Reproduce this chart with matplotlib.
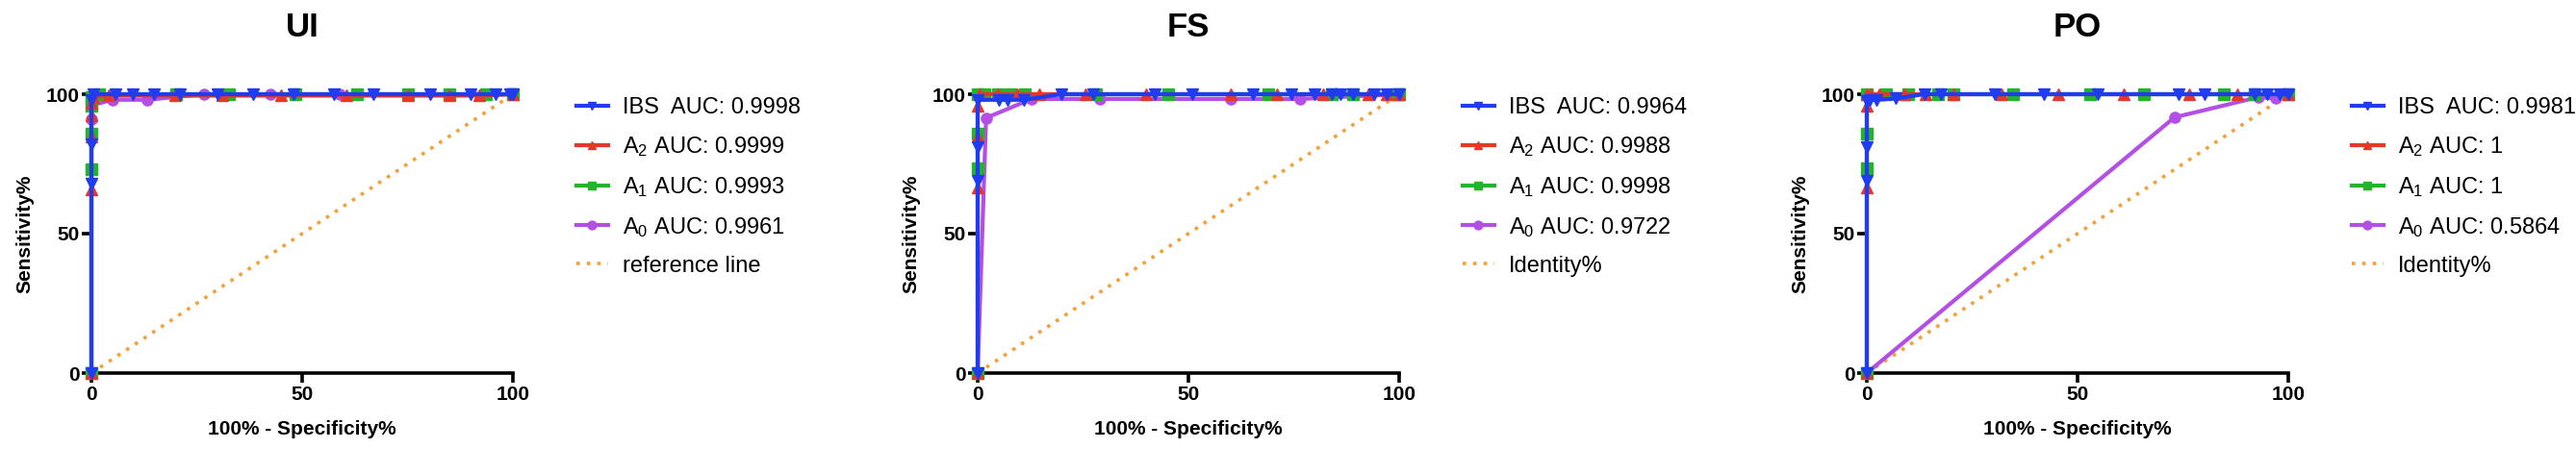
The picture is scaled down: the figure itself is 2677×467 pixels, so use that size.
import matplotlib
matplotlib.use("Agg")
from matplotlib import pyplot as plt

plt.rcParams['font.family'] = ['Liberation Sans', 'DejaVu Sans']
plt.rcParams['mathtext.fontset'] = 'custom'
plt.rcParams['mathtext.rm'] = 'Liberation Sans'
plt.rcParams['mathtext.it'] = 'Liberation Sans:italic'
plt.rcParams['mathtext.bf'] = 'Liberation Sans:bold'

# panel titles and legend labels
titles = ["UI", "FS", "PO"]
ref_names = ["reference line", "Identity%", "Identity%"]
auc = {
    "UI": ["0.9998", "0.9999", "0.9993", "0.9961"],
    "FS": ["0.9964", "0.9988", "0.9998", "0.9722"],
    "PO": ["0.9981", "1", "1", "0.5864"],
}

# ROC points, x = 100% - specificity%, y = sensitivity%
ui_ibs_x = [0, 0, 0, 0, 0.5, 5.7, 9.8, 14.8, 21, 30, 38.4, 48, 57.5, 67, 80.4, 90, 96, 99.3, 100]
ui_ibs_y = [0, 68, 82, 98, 100, 100, 100, 100, 100, 100, 100, 100, 100, 100, 100, 100, 100, 100, 100]
ui_a2_x = [0, 0, 0, 0, 0, 0.5, 4, 19.8, 31, 45, 60.5, 75, 85, 92, 100]
ui_a2_y = [0, 66, 85, 92.5, 97, 99, 99.5, 99.5, 99.5, 99.5, 99.5, 99.5, 99.5, 99.5, 100]
ui_a1_x = [0, 0, 0, 0, 0, 1.9, 20, 32.7, 48.4, 63, 75, 85, 93.5, 100]
ui_a1_y = [0, 73, 86, 96, 99, 100, 100, 100, 100, 100, 100, 100, 100, 100]
ui_a0_x = [0, 0, 0, 5, 13.2, 26.7, 42.5, 59, 75, 85, 100]
ui_a0_y = [0, 91, 96, 98, 98, 100, 100, 100, 100, 100, 100]

fs_ibs_x = [0, 0, 0, 0, 5, 7, 11, 19.8, 27.5, 42, 51, 65.4, 74.5, 80, 84, 86, 89, 94, 97, 100]
fs_ibs_y = [0, 69, 81, 98, 98, 98, 98, 100, 100, 100, 100, 100, 100, 100, 100, 100, 100, 100, 100, 100]
fs_a2_x = [0, 0, 0, 0, 0.5, 4.8, 9.3, 14.6, 25.5, 40, 60, 71, 82, 92.7, 97, 100]
fs_a2_y = [0, 66.5, 85, 96, 100, 100, 100, 100, 100, 100, 100, 100, 100, 100, 100, 100]
fs_a1_x = [0, 0, 0, 0, 1.6, 4.8, 7.7, 11.2, 28, 45.3, 69, 84, 89, 99.5, 100]
fs_a1_y = [0, 73.4, 86, 100, 100, 100, 100, 100, 100, 100, 100, 100, 100, 100, 100]
fs_a0_x = [0, 2, 12.8, 29, 60, 76.5, 100]
fs_a0_y = [0, 91.5, 98.3, 98.3, 98.3, 98.3, 100]

po_ibs_x = [0, 0, 0, 0, 0.7, 2.3, 6.8, 13.6, 17.6, 30.4, 42, 54.8, 73.9, 80.2, 92, 95, 98, 100]
po_ibs_y = [0, 69, 81, 97.6, 98, 98, 98.5, 100, 100, 100, 100, 100, 100, 100, 100, 100, 100, 100]
po_a2_x = [0, 0, 0, 0, 1, 3, 9, 14, 20.5, 32, 45.5, 61, 76.4, 88, 100]
po_a2_y = [0, 66.5, 96, 100, 100, 100, 100, 100, 100, 100, 100, 100, 100, 100, 100]
po_a1_x = [0, 0, 0, 0, 4.5, 9.8, 17, 20.5, 34.7, 53, 65.7, 84.8, 92, 100]
po_a1_y = [0, 73.4, 86, 100, 100, 100, 100, 100, 100, 100, 100, 100, 100, 100]
po_a0_x = [0, 73, 93, 97, 100]
po_a0_y = [0, 91.7, 99, 98.5, 100]

ref_x = [0, 100]
ref_y = [0, 100]

curves = {
    "UI": [(ui_ibs_x, ui_ibs_y), (ui_a2_x, ui_a2_y), (ui_a1_x, ui_a1_y), (ui_a0_x, ui_a0_y)],
    "FS": [(fs_ibs_x, fs_ibs_y), (fs_a2_x, fs_a2_y), (fs_a1_x, fs_a1_y), (fs_a0_x, fs_a0_y)],
    "PO": [(po_ibs_x, po_ibs_y), (po_a2_x, po_a2_y), (po_a1_x, po_a1_y), (po_a0_x, po_a0_y)],
}

names = ["IBS ", "A$_2$", "A$_1$", "A$_0$"]
colors = ["#1f3cf0", "#e5372a", "#22b52a", "#b44fe6"]
markers = ["v", "^", "s", "o"]
ref_color = "#f2a23a"

W, H = 2677, 467
fig = plt.figure(figsize=(W / 100, H / 100), dpi=100)

lefts = [95, 1016, 1940]
ax_w, ax_top, ax_bot = 438, 98, 388

for i, key in enumerate(titles):
    ax = fig.add_axes([lefts[i] / W, (H - ax_bot) / H, ax_w / W, (ax_bot - ax_top) / H])
    ax.plot(ref_x, ref_y, color=ref_color, linestyle=(0, (1, 2)), linewidth=2.6,
            label=ref_names[i], zorder=2)
    # draw A0 first, IBS last so blue sits on top
    for j in [3, 2, 1, 0]:
        xs, ys = curves[key][j]
        ax.plot(xs, ys, color=colors[j], marker=markers[j], markersize=8,
                linewidth=3, clip_on=False, zorder=3 + (3 - j),
                label=names[j] + " AUC: " + auc[key][j])

    ax.set_xlim(0, 100)
    ax.set_ylim(0, 100)
    ax.set_xticks([0, 50, 100])
    ax.set_yticks([0, 50, 100])
    for s in ["top", "right"]:
        ax.spines[s].set_visible(False)
    for s in ["left", "bottom"]:
        ax.spines[s].set_linewidth(2.6)
    ax.tick_params(axis="both", length=7, width=2.6, labelsize=15, pad=2)
    for lab in ax.get_xticklabels() + ax.get_yticklabels():
        lab.set_fontweight("bold")

    ax.set_title(key, fontsize=25, fontweight="bold", pad=43)
    ax.set_xlabel("100% - Specificity%", fontsize=15, fontweight="bold")
    ax.set_ylabel("Sensitivity%", fontsize=15, fontweight="bold")
    ax.xaxis.set_label_coords(0.5, -0.17)
    ax.yaxis.set_label_coords(-0.137, 0.5)

    handles, labels = ax.get_legend_handles_labels()
    order = [4, 3, 2, 1, 0]
    ax.legend([handles[k] for k in order], [labels[k] for k in order],
              loc="upper left", bbox_to_anchor=(1.15, 0.99), frameon=False,
              fontsize=17, handlelength=1.4, handletextpad=0.65,
              labelspacing=0.72, borderpad=0, borderaxespad=0, numpoints=1,
              markerscale=0.8)

fig.savefig("out.png", dpi=100)
